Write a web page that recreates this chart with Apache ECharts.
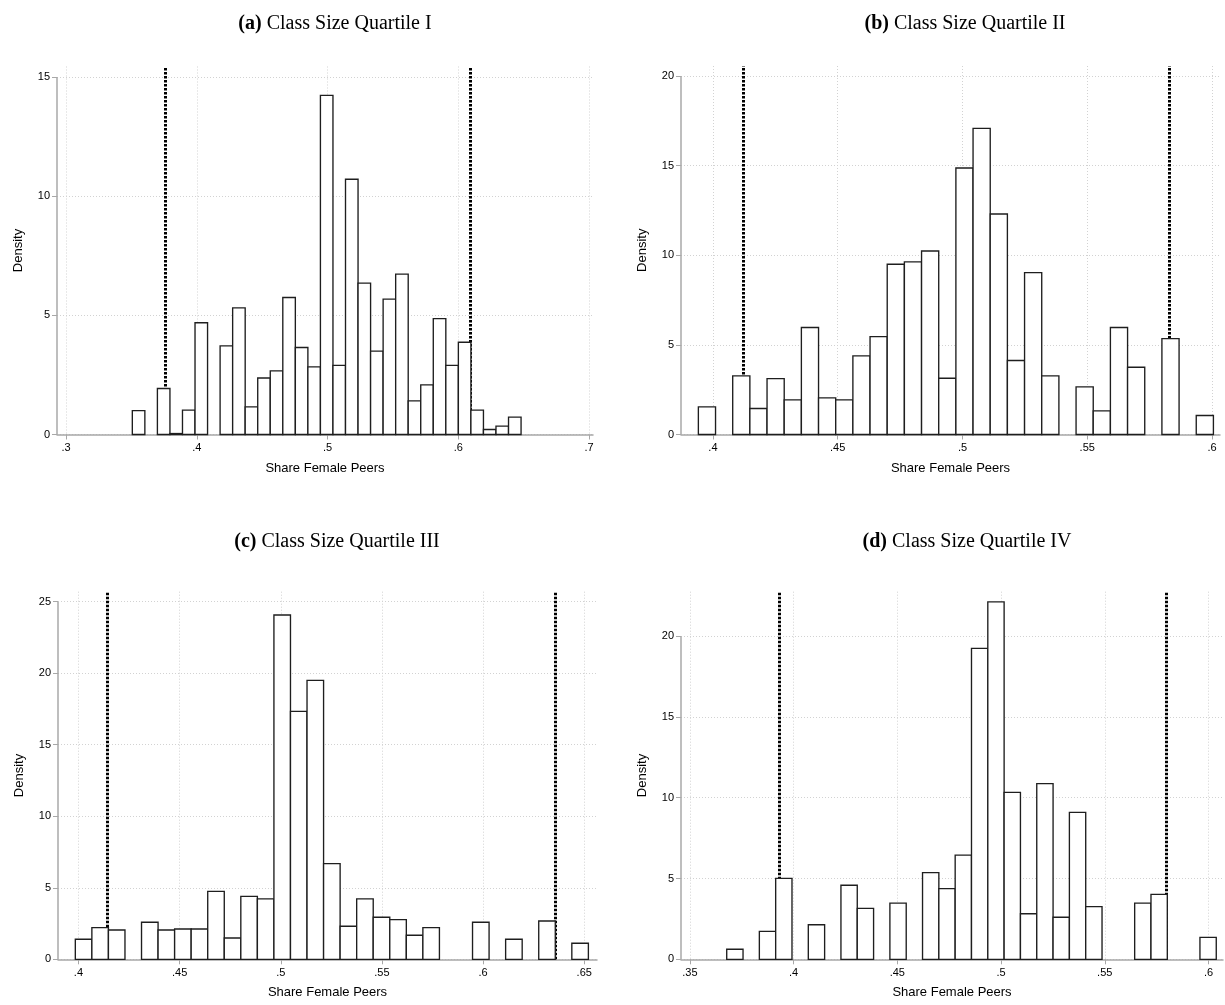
<!DOCTYPE html>
<html>
<head>
  <meta charset="utf-8" />
  <title>Share Female Peers by class size quartile</title>
  <script src="https://cdn.jsdelivr.net/npm/echarts@6.0.0/dist/echarts.min.js"></script>
  <style>
    body { margin: 0; background: #fff; }
  </style>
</head>
<body>
  <div id="main" style="width:1225px;height:1005px;"></div>
  <script type="text/javascript">
    // histogram heights (density), one entry per bin
    var heightsA = [1.0, 0, 1.93, 0.04, 1.02, 4.69, 0, 3.72, 5.31, 1.16, 2.37, 2.67, 5.75, 3.65, 2.84,
      14.23, 2.9, 10.71, 6.35, 3.5, 5.68, 6.73, 1.41, 2.08, 4.86, 2.9, 3.87, 1.02, 0.21, 0.35, 0.73];
    var heightsB = [1.54, 0, 3.27, 1.45, 3.12, 1.93, 5.97, 2.04, 1.93, 4.39, 5.46, 9.5, 9.63, 10.24, 3.14,
      14.87, 17.08, 12.3, 4.13, 9.03, 3.27, 0, 2.66, 1.32, 5.97, 3.75, 0, 5.35, 0, 1.06];
    var heightsC = [1.4, 2.21, 2.05, 0, 2.59, 2.05, 2.12, 2.12, 4.75, 1.49, 4.4, 4.22, 24.07, 17.33, 19.5,
      6.69, 2.31, 4.22, 2.94, 2.77, 1.68, 2.21, 0, 0, 2.59, 0, 1.4, 0, 2.68, 0, 1.12];
    var heightsD = [0.62, 0, 1.73, 5.01, 0, 2.14, 0, 4.58, 3.15, 0, 3.48, 0, 5.36, 4.37, 6.45,
      19.24, 22.12, 10.33, 2.82, 10.87, 2.6, 9.09, 3.26, 0, 0, 3.48, 4.02, 0, 0, 1.36];

    // first bin edge and bin width
    var binStart = [0.3507, 0.39416, 0.39846, 0.36774];
    var binWidth = [0.00959, 0.00688, 0.00818, 0.007867];

    // vertical dotted cut-off lines
    var cutoffsA = [0.3761, 0.609];
    var cutoffsB = [0.4123, 0.583];
    var cutoffsC = [0.414, 0.6356];
    var cutoffsD = [0.3933, 0.5795];

    // tick labels
    var xTicksA = [0.3, 0.4, 0.5, 0.6, 0.7];
    var xTicksB = [0.4, 0.45, 0.5, 0.55, 0.6];
    var xTicksC = [0.4, 0.45, 0.5, 0.55, 0.6, 0.65];
    var xTicksD = [0.35, 0.4, 0.45, 0.5, 0.55, 0.6];
    var yTicksA = [0, 5, 10, 15];
    var yTicksB = [0, 5, 10, 15, 20];
    var yTicksC = [0, 5, 10, 15, 20, 25];
    var yTicksD = [0, 5, 10, 15, 20];

    var letters = ['a', 'b', 'c', 'd'];
    var titles = ['Class Size Quartile I', 'Class Size Quartile II', 'Class Size Quartile III', 'Class Size Quartile IV'];

    var panels = [
      { h: heightsA, cut: cutoffsA, xt: xTicksA, yt: yTicksA, xr: [0.2931, 0.703], ymax: 15.44,
        grid: { left: 57, top: 66.5, width: 536, height: 368 }, tx: 330, ty: 9 },
      { h: heightsB, cut: cutoffsB, xt: xTicksB, yt: yTicksB, xr: [0.3872, 0.6032], ymax: 20.56,
        grid: { left: 681, top: 66, width: 539, height: 368.5 }, tx: 960, ty: 9 },
      { h: heightsC, cut: cutoffsC, xt: xTicksC, yt: yTicksC, xr: [0.3899, 0.6563], ymax: 25.7,
        grid: { left: 58, top: 591.7, width: 539, height: 367.6 }, tx: 332, ty: 527 },
      { h: heightsD, cut: cutoffsD, xt: xTicksD, yt: yTicksD, xr: [0.3457, 0.607], ymax: 22.75,
        grid: { left: 681, top: 591.7, width: 542, height: 367.6 }, tx: 962, ty: 527 }
    ];

    var axisGrey = '#a8a8a8';
    var gridGrey = '#d2d2d2';
    var sans = 'Liberation Sans';

    function fmt(v) {
      return String(+v.toFixed(3)).replace(/^0\./, '.');
    }

    function renderBar(params, api) {
      var lo = api.coord([api.value(0), api.value(2)]);
      var hi = api.coord([api.value(1), 0]);
      return {
        type: 'rect',
        shape: { x: lo[0], y: lo[1], width: hi[0] - lo[0], height: hi[1] - lo[1] },
        style: { fill: '#fff', stroke: '#1e1e1e', lineWidth: 1.35 }
      };
    }

    var myChart = echarts.init(document.getElementById('main'));

    var option = {
      backgroundColor: '#fff',
      animation: false,
      title: [],
      grid: [],
      xAxis: [],
      yAxis: [],
      series: []
    };

    panels.forEach(function (p, i) {
      option.title.push({
        text: '{b|(' + letters[i] + ')} ' + titles[i],
        left: p.tx,
        top: p.ty,
        textAlign: 'center',
        textStyle: {
          fontFamily: 'Liberation Serif', fontSize: 20, fontWeight: 'normal', color: '#000',
          rich: { b: { fontFamily: 'Liberation Serif', fontSize: 20, fontWeight: 'bold', color: '#000' } }
        }
      });
      option.grid.push(p.grid);
      option.xAxis.push({
        gridIndex: i, type: 'value', min: p.xr[0], max: p.xr[1],
        name: 'Share Female Peers', nameLocation: 'middle', nameGap: 27,
        nameTextStyle: { fontFamily: sans, fontSize: 13, color: '#000' },
        axisLine: { onZero: false, lineStyle: { color: axisGrey, width: 1.5 } },
        axisTick: { customValues: p.xt, length: 5, lineStyle: { color: axisGrey } },
        axisLabel: { customValues: p.xt, formatter: fmt, margin: 8, fontFamily: sans, fontSize: 11, color: '#000' },
        splitLine: { show: true, lineStyle: { color: gridGrey, type: [1, 2], width: 1 } }
      });
      option.yAxis.push({
        gridIndex: i, type: 'value', min: 0, max: p.ymax,
        name: 'Density', nameLocation: 'middle', nameGap: 32, nameRotate: 90,
        nameTextStyle: { fontFamily: sans, fontSize: 13, color: '#000' },
        axisLine: { show: false },
        axisTick: { customValues: p.yt, length: 5, lineStyle: { color: axisGrey } },
        axisLabel: { customValues: p.yt, margin: 7, fontFamily: sans, fontSize: 11, color: '#000' },
        splitLine: { show: true, lineStyle: { color: gridGrey, type: [1, 2], width: 1 } }
      });

      // bins -> [left edge, right edge, density]
      var bars = [];
      p.h.forEach(function (v, k) {
        if (v > 0) {
          var x0 = binStart[i] + k * binWidth[i];
          bars.push([x0, x0 + binWidth[i], v]);
        }
      });

      // cut-off lines (full plot height) and the y axis line, drawn under the bars
      var cutLines = p.cut.map(function (c) {
        return [
          { coord: [c, 0], lineStyle: { color: '#000', width: 3, type: [2.5, 1.5] } },
          { coord: [c, p.ymax] }
        ];
      });
      var yLine = [
        { coord: [p.xr[0], 0], lineStyle: { color: axisGrey, width: 1.5, type: 'solid' } },
        { coord: [p.xr[0], p.yt[p.yt.length - 1]] }
      ];
      option.series.push({
        type: 'line', xAxisIndex: i, yAxisIndex: i, data: [], z: 1, silent: true,
        markLine: {
          z: 1, silent: true, symbol: 'none', animation: false,
          label: { show: false },
          data: cutLines.concat([yLine])
        }
      });
      option.series.push({
        type: 'custom', xAxisIndex: i, yAxisIndex: i, z: 3,
        renderItem: renderBar,
        encode: { x: [0, 1], y: 2 },
        data: bars
      });
    });

    option && myChart.setOption(option);
  </script>
</body>
</html>
